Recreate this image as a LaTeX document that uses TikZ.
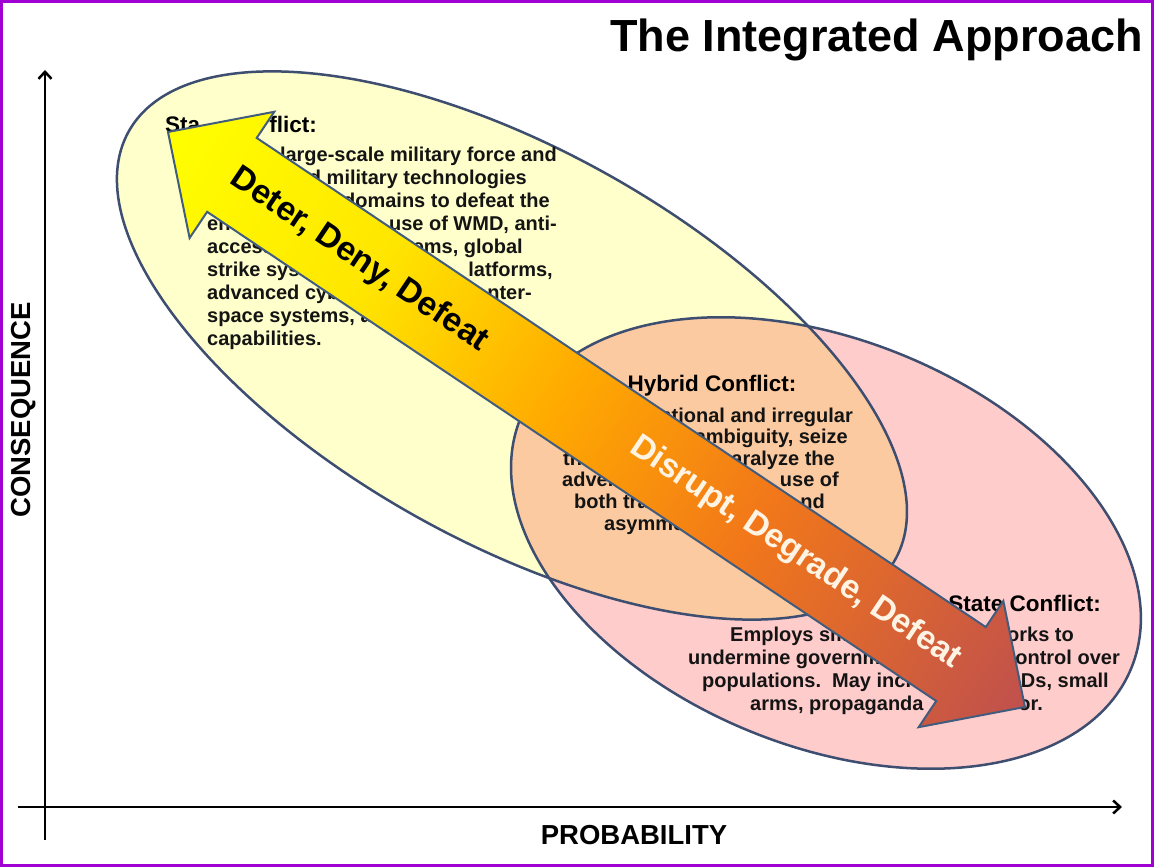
\documentclass[tikz,border=0pt]{standalone}
\usepackage{fontspec}
\setmainfont{Liberation Sans}
\usetikzlibrary{arrows.meta}
\definecolor{ellline}{RGB}{62,78,112}
\definecolor{yelfill}{RGB}{255,255,204}
\definecolor{pinkfill}{RGB}{255,204,204}
\definecolor{lensfill}{RGB}{251,202,160}
\definecolor{arrline}{RGB}{65,92,125}
\definecolor{frameclr}{RGB}{160,0,210}
\definecolor{txt}{RGB}{20,20,20}
\definecolor{lighttxt}{RGB}{255,244,228}
\definecolor{ca}{RGB}{255,255,0}
\definecolor{cb}{RGB}{255,230,0}
\definecolor{cc}{RGB}{255,170,0}
\definecolor{cd}{RGB}{242,120,25}
\definecolor{ce}{RGB}{192,80,77}
\pgfdeclarehorizontalshading{arrowshade}{100bp}{color(0bp)=(ca); color(25bp)=(ca); color(37bp)=(cb); color(48bp)=(cc); color(59bp)=(cd); color(75bp)=(ce); color(100bp)=(ce)}
\tikzset{
  body/.style={font=\fontsize{20}{23}\selectfont\bfseries, text=txt, inner sep=0pt},
  head/.style={font=\fontsize{22.5}{26}\selectfont\bfseries, text=black, inner sep=0pt},
  ellout/.style={draw=ellline, line width=2.5pt},
  axis/.style={line width=2.5pt, -{Straight Barb[length=7pt,width=13pt,line width=2.5pt]}},
  bigarrow/.style={shading=arrowshade, draw=arrline, line width=2pt, line join=miter},
  arrtext/.style={font=\fontsize{33.5}{40}\selectfont\bfseries, inner sep=0pt}
}
\begin{document}
\begin{tikzpicture}[x=1pt,y=1pt]
\useasboundingbox (0,0) rectangle (1154,867);
\fill[white] (0,0) rectangle (1154,867);
\draw[frameclr, line width=3pt] (1.5,1.5) rectangle (1152.5,865.5);
% title
\node[font=\fontsize{45}{50}\selectfont\bfseries, anchor=base east, inner sep=0pt] (title) at (1143,815) {The Integrated Approach};
% axes
\coordinate (yb) at (45,27);
\coordinate (yt) at (45,797);
\coordinate (xl) at (18,60);
\coordinate (xr) at (1122,60);
\draw[axis] (yb) -- (yt);
\draw[axis] (xl) -- (xr);
\node[font=\fontsize{27.5}{30}\selectfont\bfseries, rotate=90, inner sep=0pt] (ylab) at (24,457) {CONSEQUENCE};
\node[font=\fontsize{27.5}{30}\selectfont\bfseries, inner sep=0pt] (xlab) at (634,32) {PROBABILITY};
% ellipses
\coordinate (yc) at (512,521.5);
\coordinate (pc) at (826,324);
\fill[pinkfill, rotate around={-22.3:(pc)}] (pc) ellipse [x radius=330pt, y radius=203pt];
\fill[yelfill, rotate around={-29.2:(yc)}] (yc) ellipse [x radius=439pt, y radius=196pt];
\begin{scope}
  \clip[rotate around={-29.2:(yc)}] (yc) ellipse [x radius=439pt, y radius=196pt];
  \fill[lensfill, rotate around={-22.3:(pc)}] (pc) ellipse [x radius=330pt, y radius=203pt];
\end{scope}
\draw[ellout, rotate around={-29.2:(yc)}] (yc) ellipse [x radius=439pt, y radius=196pt];
\draw[ellout, rotate around={-22.3:(pc)}] (pc) ellipse [x radius=330pt, y radius=203pt];
% upper-left block
\node[head, anchor=base west] (h1a) at (165,734) {Sta};
\node[head, anchor=base east] (h1b) at (317,734) {flict:};
\node[body, anchor=base east] (a1r) at (557,705) {large-scale military force and};
\node[body, anchor=base east] (a2r) at (527,682) {d military technologies};
\node[body, anchor=base east] (a3r) at (550,659) {domains to defeat the};
\node[body, anchor=base west] (a4l) at (207,636) {ene};
\node[body, anchor=base east] (a4r) at (557,636) {use of WMD, anti-};
\node[body, anchor=base west] (a5l) at (207,613) {access};
\node[body, anchor=base east] (a5r) at (523,613) {tems, global};
\node[body, anchor=base west] (a6l) at (207,590) {strike syst};
\node[body, anchor=base east] (a6r) at (553,590) {latforms,};
\node[body, anchor=base west] (a7l) at (207,567) {advanced cybe};
\node[body, anchor=base east] (a7r) at (532,567) {nter-};
\node[body, anchor=base west] (a8l) at (207,544) {space systems, an};
\node[body, anchor=base west] (a9l) at (207,521) {capabilities.};
% hybrid block
\node[head, anchor=base] (h2) at (712,475) {Hybrid Conflict:};
\node[body, anchor=base east] (b1r) at (853,444) {ntional and irregular};
\node[body, anchor=base east] (b2r) at (848,423) {ambiguity, seize};
\node[body, anchor=base west] (b3l) at (563,401) {the};
\node[body, anchor=base east] (b3r) at (835,401) {aralyze the};
\node[body, anchor=base west] (b4l) at (562,380) {advers};
\node[body, anchor=base east] (b4r) at (839,380) {use of};
\node[body, anchor=base west] (b5l) at (574,358) {both trad};
\node[body, anchor=base east] (b5r) at (825,358) {nd};
\node[body, anchor=base west] (b6l) at (604,336) {asymmet};
% non-state block
\node[head, anchor=base east] (h3) at (1101,255) {State Conflict:};
\node[body, anchor=base west] (c1l) at (730,225) {Employs sm};
\node[body, anchor=base east] (c1r) at (1074,225) {orks to};
\node[body, anchor=base west] (c2l) at (688,202) {undermine governm};
\node[body, anchor=base east] (c2r) at (1120,202) {ontrol over};
\node[body, anchor=base west] (c3l) at (702,179) {populations.\ \ May inclu};
\node[body, anchor=base east] (c3r) at (1109,179) {Ds, small};
\node[body, anchor=base west] (c4l) at (750,156) {arms, propaganda};
\node[body, anchor=base east] (c4r) at (1043,156) {or.};
% big double arrow
\begin{scope}[transform canvas={shift={(168pt,735pt)},rotate=-33.86}]
  \shadedraw[bigarrow] (0,0) -- (77,76) -- (77,44.5) -- (955,44.5) -- (955,76) -- (1032,0)
     -- (955,-76) -- (955,-44.5) -- (77,-44.5) -- (77,-76) -- cycle;
  \node[arrtext, text=black] (t1) at (230,0) {Deter, Deny, Defeat};
  \node[arrtext, text=lighttxt] (t2) at (756,0) {Disrupt, Degrade, Defeat};
\end{scope}
\end{tikzpicture}
\end{document}
